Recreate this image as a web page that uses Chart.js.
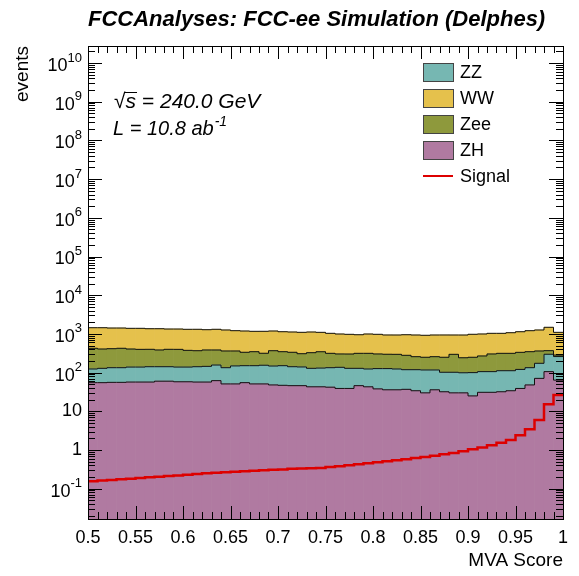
<!DOCTYPE html>
<html>
<head>
<meta charset="utf-8">
<title>MVA Score</title>
<script src="https://cdn.jsdelivr.net/npm/chart.js@4.4.1/dist/chart.umd.min.js"></script>
<style>
  html, body { margin: 0; padding: 0; background: #fff; }
  canvas { display: block; }
</style>
</head>
<body>
<canvas id="mvaChart" width="579" height="576"></canvas>
<script>
// histogram binning
const xMin = 0.5;
const xMax = 1.0;
const binWidth = 0.01;
const xTickLabels = ['0.5', '0.55', '0.6', '0.65', '0.7', '0.75', '0.8', '0.85', '0.9', '0.95', '1'];
const yExponents = [-1, 0, 1, 2, 3, 4, 5, 6, 7, 8, 9, 10];

// events per bin, stacked from the bottom: ZH, ZZ, Zee, WW
const zh = [55, 55, 56, 56, 57, 57, 57, 60, 60, 58, 58, 57, 57, 62, 51, 51, 55, 51, 51, 48,
            47, 46, 46, 43, 43, 42, 39, 39, 46, 43, 38, 36, 36, 37, 34, 30, 36, 32, 30, 30,
            25, 31, 31, 32, 34, 39, 48, 71, 106, 64];
const zz = [69, 74, 78, 78, 82, 82, 85, 82, 82, 81, 81, 85, 88, 95, 83, 98, 96, 100, 104, 100,
            104, 96, 94, 86, 88, 92, 98, 90, 83, 81, 89, 91, 88, 82, 85, 87, 81, 70, 72, 69,
            75, 75, 75, 80, 78, 82, 86, 103, 192, 196];
const zee = [301, 278, 281, 291, 268, 260, 258, 242, 258, 260, 237, 226, 239, 227, 228, 213, 184, 196, 161, 220,
             196, 193, 168, 198, 215, 181, 166, 173, 186, 191, 176, 171, 173, 161, 139, 132, 141, 147, 195, 143,
             149, 163, 197, 203, 203, 213, 213, 188, 71, 24];
const ww = [1021, 1039, 1005, 995, 988, 995, 963, 979, 938, 938, 939, 948, 901, 932, 901, 850, 854, 820, 852, 821,
            793, 785, 791, 793, 752, 721, 691, 674, 638, 679, 674, 640, 640, 673, 679, 672, 679, 689, 640, 694,
            729, 726, 733, 721, 759, 805, 864, 901, 1114, 814];
const signal = [0.157, 0.162, 0.167, 0.176, 0.181, 0.188, 0.198, 0.203, 0.214, 0.221, 0.231, 0.239, 0.251, 0.257, 0.266,
                0.275, 0.281, 0.291, 0.298, 0.309, 0.316, 0.326, 0.331, 0.339, 0.343, 0.364, 0.379, 0.403, 0.427, 0.453,
                0.481, 0.511, 0.542, 0.575, 0.621, 0.659, 0.713, 0.775, 0.836, 0.925, 1.04, 1.17, 1.32, 1.54, 1.81,
                2.40, 3.43, 5.96, 15.2, 26.4];

const colors = { ZH: '#b07aa1', ZZ: '#76b7b2', Zee: '#8e993c', WW: '#e5c14c', Signal: '#dd0000' };
const legendOrder = ['ZZ', 'WW', 'Zee', 'ZH', 'Signal'];

const binLabels = zh.map((_, i) => (xMin + (i + 0.5) * binWidth).toFixed(3));

// step outline: value of each bin starting at its lower edge, closed at xMax
function stepPoints(values) {
    const pts = values.map((v, i) => ({ x: xMin + i * binWidth, y: v }));
    pts.push({ x: xMax, y: values[values.length - 1] });
    return pts;
}

function stackSum(...series) {
    return series[0].map((_, i) => series.reduce((s, arr) => s + arr[i], 0));
}

function barSet(label, values) {
    return {
        type: 'bar',
        label: label,
        data: values,
        backgroundColor: colors[label],
        borderWidth: 0,
        grouped: false,
        barPercentage: 1,
        categoryPercentage: 1,
        xAxisID: 'x',
        yAxisID: 'y'
    };
}

function outline(values, name, color, width, order) {
    return {
        type: 'line',
        label: name,
        data: stepPoints(values),
        borderColor: color,
        borderWidth: width,
        pointRadius: 0,
        stepped: true,
        fill: false,
        stack: name,
        order: order,
        xAxisID: 'xv',
        yAxisID: 'y'
    };
}

const datasets = [
    barSet('ZH', zh),
    barSet('ZZ', zz),
    barSet('Zee', zee),
    barSet('WW', ww),
    outline(zh, 'edgeZH', '#111', 1, -1),
    outline(stackSum(zh, zz), 'edgeZZ', '#111', 1, -1),
    outline(stackSum(zh, zz, zee), 'edgeZee', '#111', 1, -1),
    outline(stackSum(zh, zz, zee, ww), 'edgeWW', '#111', 1, -1),
    outline(signal, 'Signal', colors.Signal, 2.5, -2)
];

const font = 'Liberation Sans, Arial, Helvetica, sans-serif';

function line(ctx, x1, y1, x2, y2) {
    ctx.beginPath();
    ctx.moveTo(x1, y1);
    ctx.lineTo(x2, y2);
    ctx.stroke();
}

// "10" with a raised exponent, right edge at xRight
function powerLabel(ctx, exp, xRight, y) {
    ctx.textBaseline = 'middle';
    ctx.textAlign = 'left';
    if (exp === 0 || exp === 1) {
        ctx.font = '18px ' + font;
        const t = exp === 0 ? '1' : '10';
        ctx.fillText(t, xRight - ctx.measureText(t).width, y);
        return;
    }
    const sup = String(exp);
    ctx.font = '13px ' + font;
    const ws = ctx.measureText(sup).width;
    ctx.fillText(sup, xRight - ws, y - 5);
    ctx.font = '18px ' + font;
    const wb = ctx.measureText('10').width;
    ctx.fillText('10', xRight - ws - wb, y + 3);
}

const rootStyle = {
    id: 'rootStyle',
    afterDatasetsDraw(chart) {
        const { ctx, chartArea: a, scales } = chart;
        const xs = scales.xv;
        const ys = scales.y;
        ctx.save();
        ctx.strokeStyle = '#000';
        ctx.lineWidth = 1;

        // x ticks on bottom and top edges
        const nTicks = Math.round((xMax - xMin) / binWidth);
        for (let i = 0; i <= nTicks; i++) {
            const px = Math.round(xs.getPixelForValue(xMin + i * binWidth)) + 0.5;
            const len = i % 5 === 0 ? 13 : 7;
            line(ctx, px, a.bottom, px, a.bottom - len);
            line(ctx, px, a.top, px, a.top + len);
        }

        // logarithmic y ticks on left and right edges
        for (let e = -2; e <= 10; e++) {
            for (let m = 1; m <= 9; m++) {
                const v = m * Math.pow(10, e);
                if (v < ys.min || v > ys.max) continue;
                const py = Math.round(ys.getPixelForValue(v)) + 0.5;
                const len = m === 1 ? 14 : 7;
                line(ctx, a.left, py, a.left + len, py);
                line(ctx, a.right, py, a.right - len, py);
            }
        }

        ctx.strokeRect(Math.round(a.left) + 0.5, Math.round(a.top) + 0.5,
                       Math.round(a.right - a.left), Math.round(a.bottom - a.top));
        ctx.restore();
    },
    afterDraw(chart) {
        const { ctx, chartArea: a, scales } = chart;
        const xs = scales.xv;
        const ys = scales.y;
        ctx.save();
        ctx.fillStyle = '#000';

        // tick labels
        ctx.font = '18px ' + font;
        ctx.textAlign = 'center';
        ctx.textBaseline = 'middle';
        xTickLabels.forEach(t => {
            ctx.fillText(t, xs.getPixelForValue(parseFloat(t)), a.bottom + 19);
        });
        yExponents.forEach(e => powerLabel(ctx, e, a.left - 6, ys.getPixelForValue(Math.pow(10, e))));

        // axis titles
        ctx.font = '19px ' + font;
        ctx.textAlign = 'right';
        ctx.textBaseline = 'alphabetic';
        ctx.fillText('MVA Score', a.right, a.bottom + 47);
        ctx.save();
        ctx.translate(28, a.top);
        ctx.rotate(-Math.PI / 2);
        ctx.textAlign = 'right';
        ctx.fillText('events', 0, 0);
        ctx.restore();

        // title
        ctx.font = 'bold italic 22px ' + font;
        ctx.textAlign = 'left';
        ctx.fillText('FCCAnalyses: FCC-ee Simulation (Delphes)', a.left, 26);

        // centre-of-mass energy and luminosity
        ctx.font = 'italic 21px ' + font;
        const sx = 114, sy = 108;
        ctx.fillText('\u221A', sx, sy);
        const wr = ctx.measureText('\u221A').width;
        const wsym = ctx.measureText('s').width;
        ctx.fillText('s = 240.0 GeV', sx + wr, sy);
        ctx.lineWidth = 1;
        ctx.strokeStyle = '#000';
        line(ctx, sx + wr - 1, sy - 15.5, sx + wr + wsym + 1, sy - 15.5);

        ctx.font = 'italic 20px ' + font;
        ctx.fillText('L = 10.8 ab', 113, 135);
        const wl = ctx.measureText('L = 10.8 ab').width;
        ctx.font = 'italic 14px ' + font;
        ctx.fillText('-1', 113 + wl + 1, 126);

        // legend
        const lx = 423, ly = 72, step = 26;
        ctx.font = '18px ' + font;
        ctx.textBaseline = 'middle';
        legendOrder.forEach((name, i) => {
            const cy = ly + i * step;
            if (name === 'Signal') {
                ctx.strokeStyle = colors.Signal;
                ctx.lineWidth = 2;
                line(ctx, lx, cy, lx + 30, cy);
            } else {
                ctx.fillStyle = colors[name];
                ctx.fillRect(lx, cy - 9, 30, 18);
                ctx.strokeStyle = '#444';
                ctx.lineWidth = 1;
                ctx.strokeRect(lx + 0.5, cy - 8.5, 30, 18);
            }
            ctx.fillStyle = '#000';
            ctx.fillText(name, lx + 37, cy + 1);
        });
        ctx.restore();
    }
};

const ctx = document.getElementById('mvaChart').getContext('2d');
const chart = new Chart(ctx, {
    type: 'bar',
    data: {
        labels: binLabels,
        datasets: datasets
    },
    options: {
        responsive: false,
        animation: false,
        layout: {
            padding: { left: 88, right: 16, top: 46, bottom: 57 }
        },
        plugins: {
            legend: { display: false },
            tooltip: { enabled: false }
        },
        scales: {
            x: { display: false, stacked: true, offset: true },
            xv: { type: 'linear', display: false, offset: false, min: xMin, max: xMax },
            y: {
                type: 'logarithmic',
                display: false,
                stacked: true,
                min: 0.0165,
                max: 2.75e10
            }
        }
    },
    plugins: [rootStyle]
});
</script>
</body>
</html>
